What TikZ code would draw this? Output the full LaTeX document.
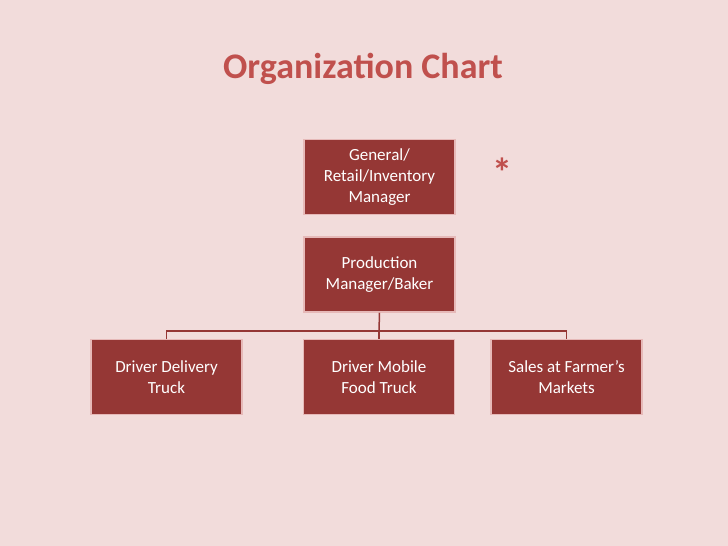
\documentclass[tikz,border=0pt]{standalone}
\usepackage{fontspec}
\setmainfont{Carlito}
\usetikzlibrary{positioning}
\definecolor{pagebg}{HTML}{F2DCDB}
\definecolor{boxfill}{HTML}{953735}
\definecolor{boxedge}{HTML}{E6B9B8}
\definecolor{titlered}{HTML}{C0504D}
\tikzset{
  orgbox/.style={draw=boxedge, line width=1.5pt, fill=boxfill, text=white,
    minimum width=151pt, minimum height=75pt, align=center,
    font=\fontsize{17pt}{21pt}\selectfont, inner sep=2pt},
  link/.style={draw=boxfill, line width=1.5pt}
}
\begin{document}
\begin{tikzpicture}[x=1pt,y=-1pt]
    \fill[pagebg] (0,0) rectangle (728,546);
    \useasboundingbox (0,0) rectangle (728,546);

    \node [text=titlered, font=\fontsize{36pt}{40pt}\selectfont\bfseries] (title) at (363,69) {Organization Chart};
    \node [orgbox] (gm) at (379.5,177) {General/\\Retail/Inventory\\Manager};
    \node [text=titlered, font=\fontsize{40pt}{40pt}\selectfont\bfseries] (star) at (502,172) {*};
    \node [orgbox] (pm) at (379.5,274.5) {Production\\Manager/Baker};
    \node [orgbox] (dd) at (166.5,377) {Driver Delivery\\Truck};
    \node [orgbox] (dm) at (379,377) {Driver Mobile\\Food Truck};
    \node [orgbox] (sf) at (566.5,377) {Sales at Farmer’s\\Markets};

    \coordinate (hub) at (379,331);
    \draw[link] (pm.south) -- (hub);
    \draw[link] (dd.north) |- (hub) -| (sf.north);
    \draw[link] (hub) -- (dm.north);
\end{tikzpicture}
\end{document}
